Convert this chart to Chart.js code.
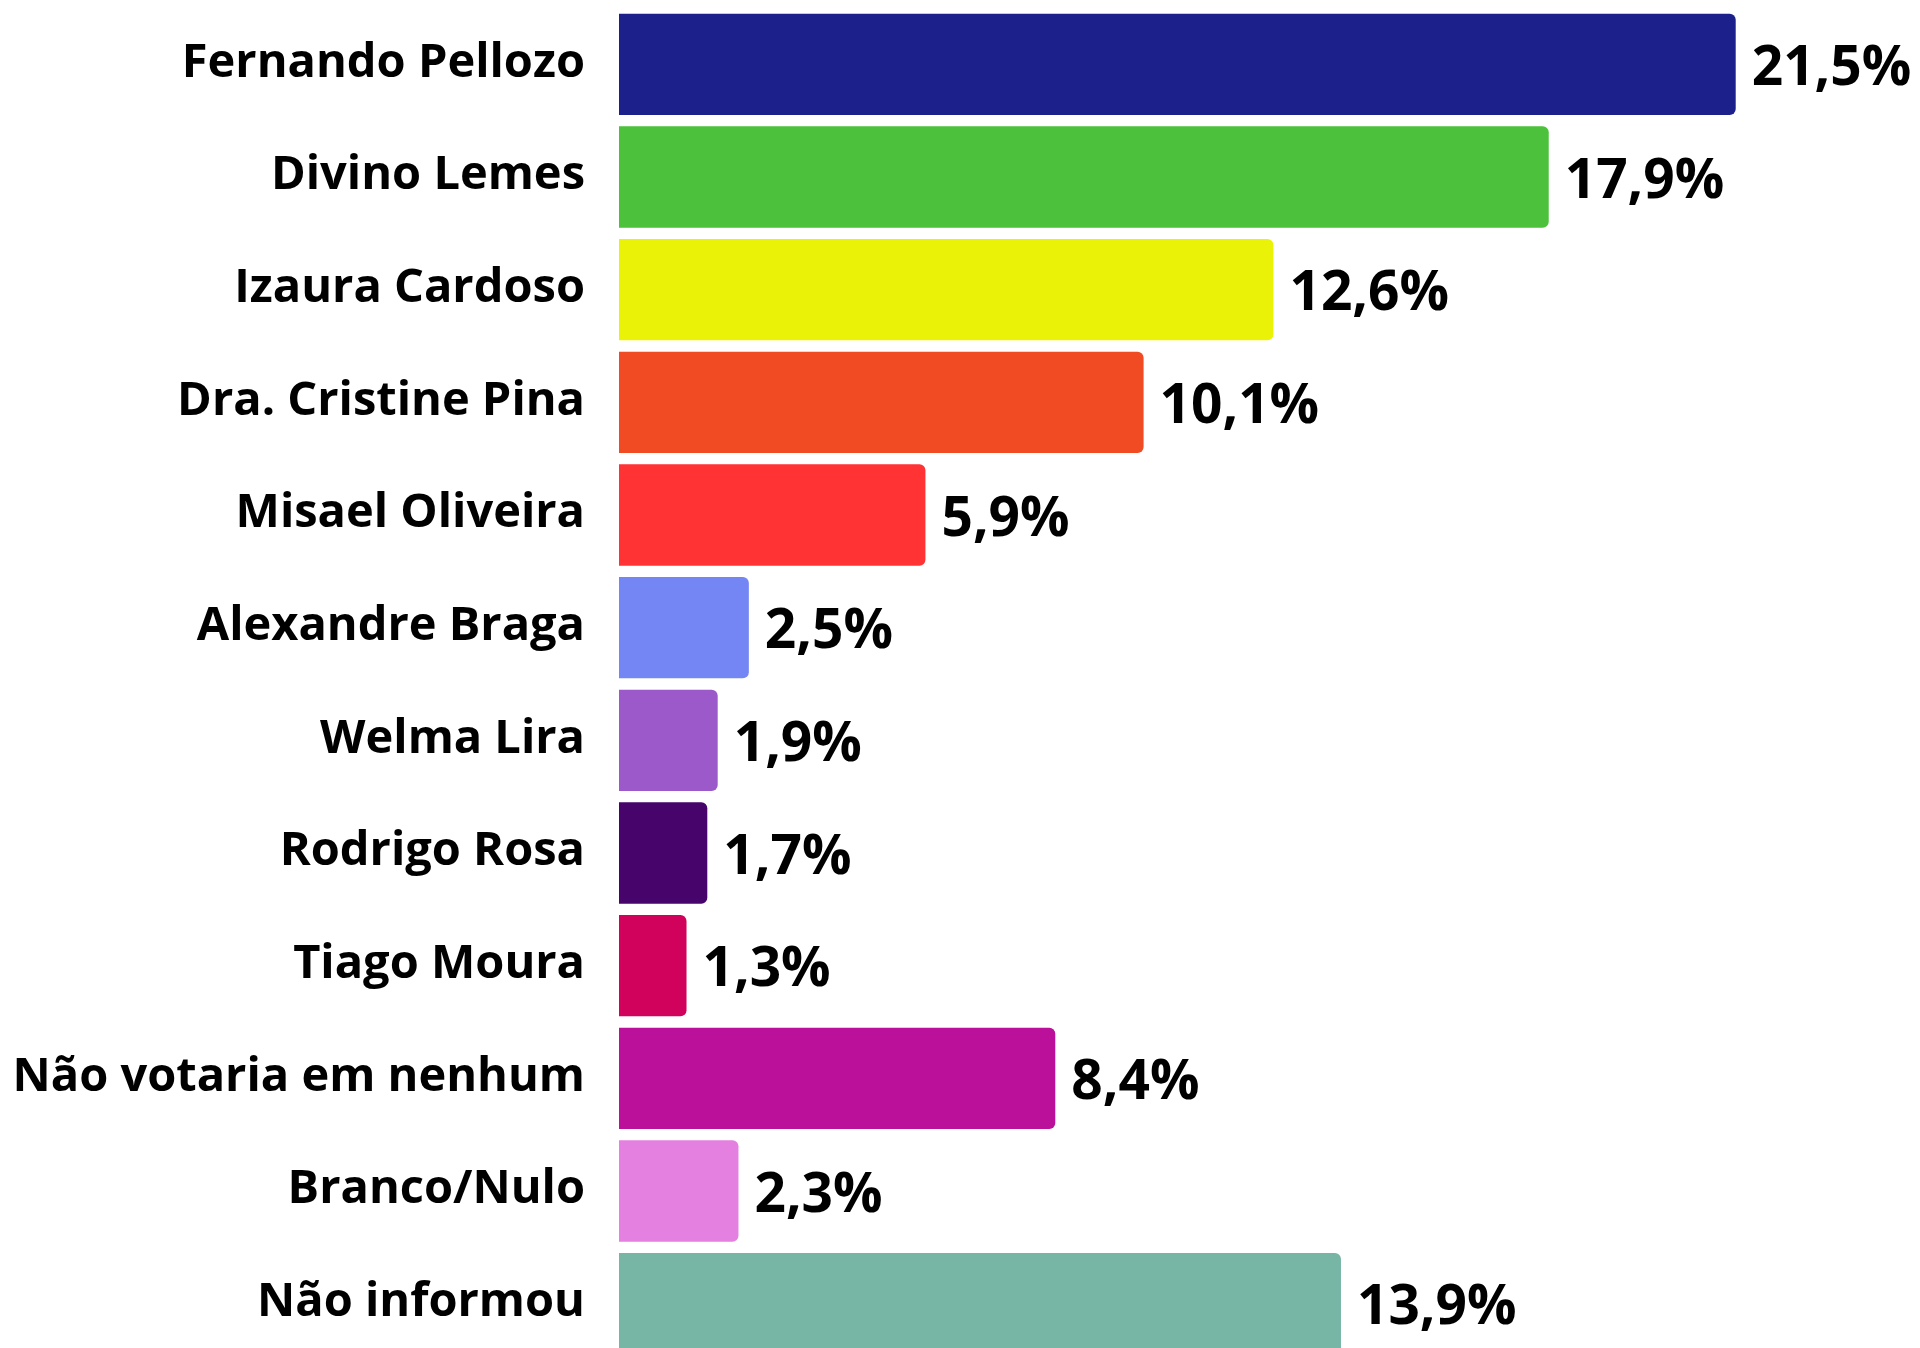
<!DOCTYPE html>
<html>
<head>
<meta charset="utf-8">
<script src="https://cdn.jsdelivr.net/npm/chart.js@4.4.1/dist/chart.umd.min.js"></script>
<style>
  html, body { margin: 0; padding: 0; background: #ffffff; overflow: hidden; }
  canvas { display: block; }
</style>
</head>
<body>
<canvas id="grafico" width="1920" height="1362"></canvas>
<script>
// candidatos e percentuais
const candidatos = [
  'Fernando Pellozo',
  'Divino Lemes',
  'Izaura Cardoso',
  'Dra. Cristine Pina',
  'Misael Oliveira',
  'Alexandre Braga',
  'Welma Lira',
  'Rodrigo Rosa',
  'Tiago Moura',
  'Não votaria em nenhum',
  'Branco/Nulo',
  'Não informou'
];

const percentuais = [21.5, 17.9, 12.6, 10.1, 5.9, 2.5, 1.9, 1.7, 1.3, 8.4, 2.3, 13.9];

const cores = [
  '#1C208A',
  '#4CC13B',
  '#EAF207',
  '#F04B23',
  '#FF3334',
  '#7486F4',
  '#9B59C9',
  '#47046B',
  '#D1025B',
  '#BB119A',
  '#E380E0',
  '#77B5A5'
];

// escreve o valor ao lado de cada barra
const rotulosValor = {
  id: 'rotulosValor',
  afterDatasetsDraw(chart) {
    const ctx = chart.ctx;
    const meta = chart.getDatasetMeta(0);
    ctx.save();
    ctx.font = 'bold 55px "Open Sans"';
    ctx.fillStyle = '#000000';
    ctx.textAlign = 'left';
    ctx.textBaseline = 'middle';
    meta.data.forEach((barra, i) => {
      const texto = percentuais[i].toFixed(1).replace('.', ',') + '%';
      ctx.fillText(texto, barra.x + 16, barra.y + 5);
    });
    ctx.restore();
  }
};

const grafico = new Chart(document.getElementById('grafico'), {
  type: 'bar',
  data: {
    labels: candidatos,
    datasets: [{
      data: percentuais,
      backgroundColor: cores,
      borderWidth: 0,
      borderRadius: 6,
      barPercentage: 0.9,
      categoryPercentage: 1
    }]
  },
  options: {
    indexAxis: 'y',
    responsive: false,
    animation: false,
    layout: {
      padding: { top: 8, bottom: 2, left: 0, right: 2.5 }
    },
    plugins: {
      legend: { display: false },
      tooltip: { enabled: false }
    },
    scales: {
      x: {
        display: false,
        min: 0,
        max: 25
      },
      y: {
        grid: { display: false, drawTicks: false },
        border: { display: false },
        afterFit(scale) {
          scale.width = 619;
          scale.paddingTop = 0;
          scale.paddingBottom = 0;
        },
        ticks: {
          padding: 34,
          labelOffset: -1,
          color: '#000000',
          font: { family: '"Open Sans"', weight: 'bold', size: 47 }
        }
      }
    }
  },
  plugins: [rotulosValor]
});
</script>
</body>
</html>
